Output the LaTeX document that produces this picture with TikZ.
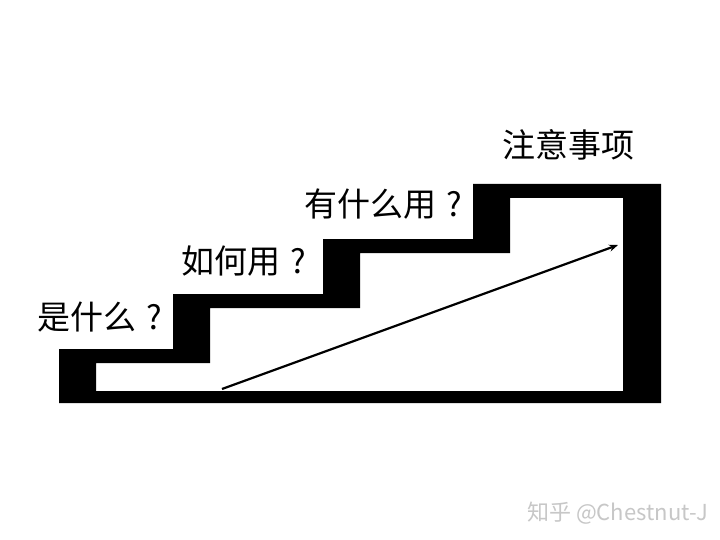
\documentclass[tikz,border=0pt]{standalone}
\usepackage{fontspec}
\newfontfamily\cjk{Noto Sans CJK SC}
\usetikzlibrary{arrows.meta}
\newcommand{\qmk}{\hspace{0.3em}?}
\tikzset{
  steplabel/.style={font=\cjk\fontsize{33}{33}\selectfont, inner sep=0pt, anchor=west},
  wmark/.style={font=\cjk\fontsize{22}{22}\selectfont, text=black!22, inner sep=0pt, anchor=west},
  trend/.style={line width=2.2pt, -{Stealth[length=9pt,width=7pt]}}
}
\begin{document}
\begin{tikzpicture}[x=1pt,y=-1pt]
\useasboundingbox (0,0) rectangle (720,540);
\fill[white] (0,0) rectangle (720,540);
% staircase band
\fill[black, even odd rule]
  (59,403) -- (59,349) -- (173,349) -- (173,294) -- (323,294) -- (323,239)
  -- (473,239) -- (473,184) -- (661,184) -- (661,403) -- cycle
  (96,391) -- (96,363) -- (210,363) -- (210,308) -- (360,308) -- (360,253)
  -- (510,253) -- (510,198) -- (623,198) -- (623,391) -- cycle;
% labels
\node[steplabel] (l1) at (37,317) {是什么\qmk};
\node[steplabel] (l2) at (181,261) {如何用\qmk};
\node[steplabel] (l3) at (304,204) {有什么用\qmk};
\node[steplabel] (l4) at (502,145) {注意事项};
% arrow
\coordinate (a0) at (222,389);
\coordinate (a1) at (618,245);
\draw[trend] (a0) -- (a1);
% watermark
\node[wmark] (wm) at (527,513) {知乎 @Chestnut-J};
\end{tikzpicture}
\end{document}
